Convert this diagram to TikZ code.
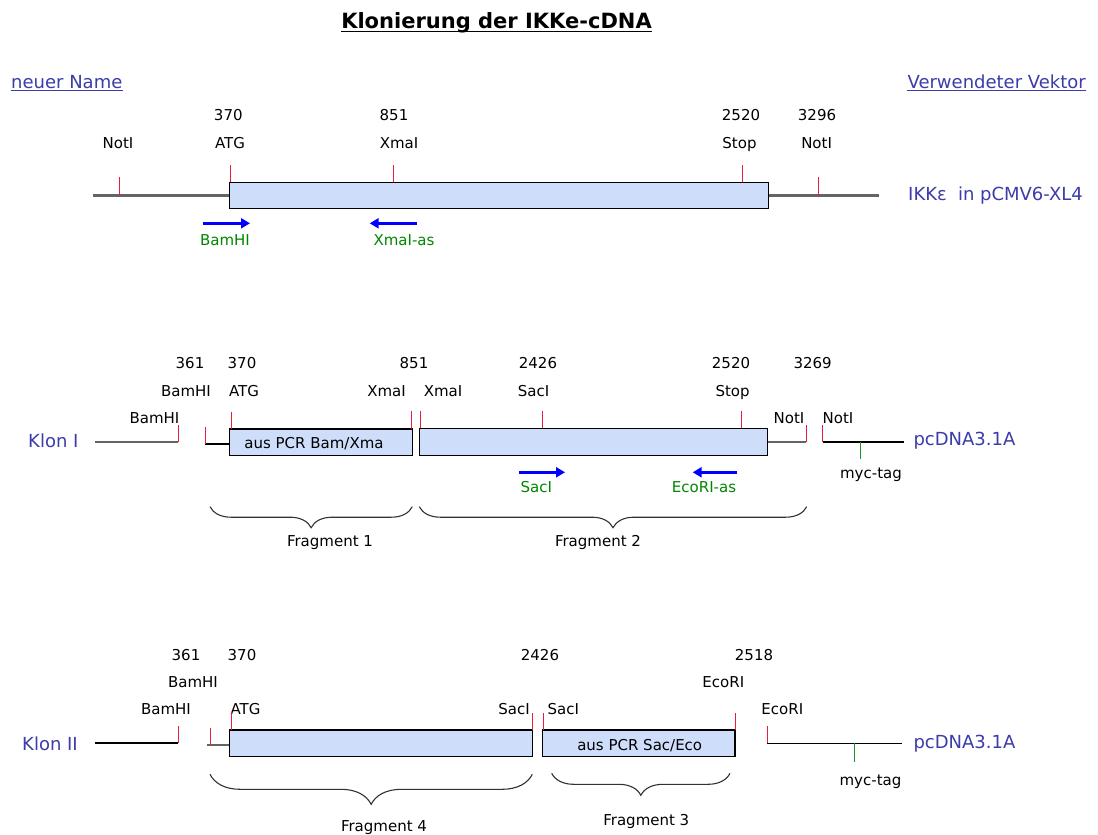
\documentclass[tikz,border=0pt]{standalone}
\usepackage{fontspec}
\setmainfont{DejaVu Sans}
\usetikzlibrary{arrows.meta,decorations.pathreplacing,positioning}

\definecolor{vecblue}{RGB}{60,60,170}
\definecolor{primgreen}{RGB}{0,135,0}
\definecolor{arrowblue}{RGB}{0,0,255}
\definecolor{sitered}{RGB}{228,30,60}
\definecolor{cdsblue}{RGB}{206,222,250}
\definecolor{bbgrey}{RGB}{100,100,100}
\definecolor{mycgreen}{RGB}{20,150,40}
\definecolor{bracegrey}{RGB}{50,50,50}

\begin{document}
\begin{tikzpicture}[x=1pt, y=-1pt,
		lbl/.style={font=\fontsize{15}{18}\selectfont, inner sep=0pt, anchor=base},
		prm/.style={lbl, text=primgreen},
		vec/.style={font=\fontsize{18}{22}\selectfont, text=vecblue, inner sep=0pt, anchor=base west},
		cds/.style={draw=black, line width=1.3pt, fill=cdsblue, inner sep=0pt, outer sep=0pt, anchor=north west},
		site/.style={draw=sitered, line width=1pt},
		bb/.style={draw=bbgrey, line width=2.3pt},
		ln/.style={draw=black, line width=1.3pt},
		myc/.style={draw=mycgreen, line width=1pt},
		primer/.style={draw=arrowblue, line width=3.4pt, -{Triangle[length=9pt,width=10pt]}},
		frag/.style={draw=bracegrey, line width=1.1pt, decorate, decoration={brace, mirror, amplitude=#1}}
	]
	\path[use as bounding box, fill=white] (0,0) rectangle (1098,835);

	% Kopf
	\node[font=\bfseries\fontsize{21}{25}\selectfont, inner sep=0pt, anchor=base] (title) at (496.5,28) {Klonierung der IKKe-cDNA};
	\draw[line width=1.8pt] ([yshift=-3.5pt]title.base west) -- ([yshift=-3.5pt]title.base east);
	\node[vec] (neu) at (11,88.3) {neuer Name};
	\draw[vecblue, line width=1pt] ([yshift=-2.5pt]neu.base west) -- ([yshift=-2.5pt]neu.base east);
	\node[vec, anchor=base east] (vekt) at (1086,88.3) {Verwendeter Vektor};
	\draw[vecblue, line width=1pt] ([yshift=-2.5pt]vekt.base west) -- ([yshift=-2.5pt]vekt.base east);

	% IKKe in pCMV6-XL4
	\node[lbl] (n370a) at (228.3,120.5) {370};
	\node[lbl] (n851a) at (394,120.5) {851};
	\node[lbl] (n2520a) at (741,120.5) {2520};
	\node[lbl] (n3296a) at (817,120.5) {3296};
	\node[lbl] (notIa) at (118,148.8) {NotI};
	\node[lbl] (atga) at (230,148.8) {ATG};
	\node[lbl] (xmaIa) at (399,148.8) {XmaI};
	\node[lbl] (stopa) at (739.5,148.8) {Stop};
	\node[lbl] (notIb) at (816.6,148.8) {NotI};
	\coordinate (ika) at (93,195.5);
	\coordinate (ikb) at (879,195.5);
	\draw[bb] (ika) -- (ikb);
	\node[cds, minimum width=538.5pt, minimum height=26.4pt] (ikk) at (229.7,182.3) {};
	\draw[site] (119,195.5) -- (119,177);
	\draw[site] (230.3,182.3) -- (230.3,165);
	\draw[site] (393.6,182.3) -- (393.6,165);
	\draw[site] (742.3,182.3) -- (742.3,165);
	\draw[site] (818,195.5) -- (818,177);
	\node[vec] (ikkvec) at (908,200.5) {IKKε\hspace{0.62em}in pCMV6-XL4};
	\coordinate (bamfs) at (203,223.3);
	\coordinate (bamfe) at (250,223.3);
	\draw[primer] (bamfs) -- (bamfe);
	\coordinate (xmars) at (416.7,223.3);
	\coordinate (xmare) at (369.7,223.3);
	\draw[primer] (xmars) -- (xmare);
	\node[prm] (bamfl) at (225,245.5) {BamHI};
	\node[prm] (xmarl) at (404,245.5) {XmaI-as};

	% Klon I
	\node[lbl] (n361b) at (190,368.5) {361};
	\node[lbl] (n370b) at (242,368.5) {370};
	\node[lbl] (n851b) at (414,368.5) {851};
	\node[lbl] (n2426b) at (538,368.5) {2426};
	\node[lbl] (n2520b) at (731,368.5) {2520};
	\node[lbl] (n3269b) at (812.7,368.5) {3269};
	\node[lbl] (bamb) at (186,396.5) {BamHI};
	\node[lbl] (atgb) at (244,396.5) {ATG};
	\node[lbl] (xmab) at (386.5,396.5) {XmaI};
	\node[lbl] (xmac) at (443,396.5) {XmaI};
	\node[lbl] (sacb) at (533.5,396.5) {SacI};
	\node[lbl] (stopb) at (732.6,396.5) {Stop};
	\node[lbl] (bamc) at (154.5,423.5) {BamHI};
	\node[lbl] (notIc) at (789,423.5) {NotI};
	\node[lbl] (notId) at (838,423.5) {NotI};
	\node[vec] (klon1) at (28,447.3) {Klon I};
	\node[vec] (pcda) at (913.3,445.5) {pcDNA3.1A};

	\node[cds, minimum width=183pt, minimum height=26.5pt] (bam) at (229.3,429) {};
	\node[cds, minimum width=348.4pt, minimum height=27.4pt] (xma) at (419.3,428.3) {};
	\node[lbl] (bamtxt) at (314,448.8) {aus PCR Bam/Xma};
	\coordinate (k1a) at (95,442);
	\coordinate (k1b) at (178,442);
	\coordinate (k1c) at (205,444);
	\coordinate (k1d) at (806.3,442);
	\coordinate (k1e) at (822.7,442);
	\coordinate (k1f) at (904,442);
	\draw[bb, line width=2pt] (k1a) -- (k1b);
	\draw[site] (k1b) -- ++(0,-17);
	\draw[ln] (k1c) -- (k1c -| bam.west);
	\draw[site] (k1c) -- ++(0,-17);
	\draw[bb, line width=2pt] (xma.east) -- (k1d);
	\draw[site] (k1d) -- ++(0,-17);
	\draw[ln] (k1e) -- (k1f);
	\draw[site] (k1e) -- ++(0,-17);
	\draw[myc] (860.3,442) -- (860.3,459.3);
	\node[lbl] (myca) at (871,478) {myc-tag};
	\draw[site] (231,429) -- (231,412);
	\draw[site] (411.7,429) -- (411.7,411);
	\draw[site] (420.3,428.3) -- (420.3,411);
	\draw[site] (542.7,428.3) -- (542.7,411);
	\draw[site] (741.7,428.3) -- (741.7,411);

	\coordinate (sacfs) at (519,472.3);
	\coordinate (sacfe) at (565,472.3);
	\draw[primer] (sacfs) -- (sacfe);
	\coordinate (ecors) at (737.3,472.3);
	\coordinate (ecore) at (692.7,472.3);
	\draw[primer] (ecors) -- (ecore);
	\node[prm] (sacfl) at (536.3,492.2) {SacI};
	\node[prm] (ecorl) at (704,492.2) {EcoRI-as};

	\coordinate (f1a) at (210,506.7);
	\coordinate (f1b) at (412.3,506.7);
	\coordinate (f2a) at (419.3,506.7);
	\coordinate (f2b) at (806.7,506.7);
	\draw[frag=21] (f1a) -- (f1b);
	\draw[frag=21] (f2a) -- (f2b);
	\node[lbl] (frag1) at (330,546.5) {Fragment 1};
	\node[lbl] (frag2) at (598,546.5) {Fragment 2};

	% Klon II
	\node[lbl] (n361c) at (186,660.5) {361};
	\node[lbl] (n370c) at (242,660.5) {370};
	\node[lbl] (n2426c) at (540,660.5) {2426};
	\node[lbl] (n2518c) at (754,660.5) {2518};
	\node[lbl] (bamd) at (193,687.2) {BamHI};
	\node[lbl] (ecoa) at (723.3,687.2) {EcoRI};
	\node[lbl] (bame) at (166,714.5) {BamHI};
	\node[lbl] (atgc) at (245.5,714.5) {ATG};
	\node[lbl] (sacc) at (514,714.5) {SacI};
	\node[lbl] (sacd) at (563.3,714.5) {SacI};
	\node[lbl] (ecob) at (782.3,714.5) {EcoRI};
	\node[vec] (klon2) at (22,750.6) {Klon II};
	\node[vec] (pcdb) at (913.3,748) {pcDNA3.1A};

	\node[cds, minimum width=303pt, minimum height=26.7pt] (sac) at (229.3,730) {};
	\node[cds, minimum width=192.7pt, minimum height=26.7pt] (eco) at (542.3,730) {};
	\node[lbl] (ecotxt) at (639.7,750.5) {aus PCR Sac/Eco};
	\coordinate (k2a) at (95,743);
	\coordinate (k2b) at (178,743);
	\coordinate (k2c) at (210,745);
	\coordinate (k2d) at (767.3,743.3);
	\coordinate (k2e) at (902,743.3);
	\draw[ln] (k2a) -- (k2b);
	\draw[site] (k2b) -- ++(0,-17.3);
	\draw[bb, line width=2pt] (207.3,745) -- (k2c -| sac.west);
	\draw[site] (k2c) -- ++(0,-17.3);
	\draw[ln] (k2d) -- (k2e);
	\draw[site] (k2d) -- ++(0,-17.3);
	\draw[myc] (854.3,743.3) -- (854.3,762.3);
	\node[lbl] (mycb) at (870.5,785.5) {myc-tag};
	\draw[site] (231.7,730) -- (231.7,712.3);
	\draw[site] (532,730) -- (532,712.7);
	\draw[site] (543.3,730) -- (543.3,712.7);
	\draw[site] (735,730) -- (735,712.7);

	\coordinate (f4a) at (210,774.3);
	\coordinate (f4b) at (532.3,774.3);
	\coordinate (f3a) at (551.7,773.3);
	\coordinate (f3b) at (730,773.3);
	\draw[frag=30] (f4a) -- (f4b);
	\draw[frag=22] (f3a) -- (f3b);
	\node[lbl] (frag4) at (384,831.3) {Fragment 4};
	\node[lbl] (frag3) at (646.3,825.7) {Fragment 3};
\end{tikzpicture}
\end{document}
